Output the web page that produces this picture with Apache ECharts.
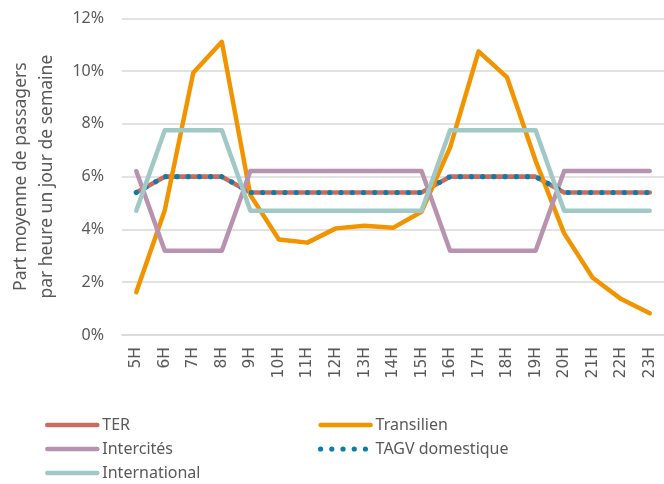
<!DOCTYPE html>
<html>
<head>
<meta charset="utf-8">
<script src="https://cdn.jsdelivr.net/npm/echarts@6/dist/echarts.min.js"></script>
<style>
  html, body { margin: 0; padding: 0; background: #fff; }
  #chart { width: 664px; height: 484px; }
</style>
</head>
<body>
<div id="chart"></div>
<script>
// Hours of a weekday
const hours = ['5H','6H','7H','8H','9H','10H','11H','12H','13H','14H','15H','16H','17H','18H','19H','20H','21H','22H','23H'];

// Average share of passengers per hour (%)
const ter          = [5.4, 6.0, 6.0, 6.0, 5.4, 5.4, 5.4, 5.4, 5.4, 5.4, 5.4, 6.0, 6.0, 6.0, 6.0, 5.4, 5.4, 5.4, 5.4];
const transilien   = [1.62, 4.73, 9.94, 11.11, 5.3, 3.62, 3.5, 4.04, 4.14, 4.06, 4.67, 7.1, 10.75, 9.76, 6.6, 3.85, 2.17, 1.36, 0.82];
const intercites   = [6.21, 3.19, 3.19, 3.19, 6.21, 6.21, 6.21, 6.21, 6.21, 6.21, 6.21, 3.19, 3.19, 3.19, 3.19, 6.21, 6.21, 6.21, 6.21];
const tagv         = [5.4, 6.0, 6.0, 6.0, 5.4, 5.4, 5.4, 5.4, 5.4, 5.4, 5.4, 6.0, 6.0, 6.0, 6.0, 5.4, 5.4, 5.4, 5.4];
const international = [4.71, 7.76, 7.76, 7.76, 4.71, 4.71, 4.71, 4.71, 4.71, 4.71, 4.71, 7.76, 7.76, 7.76, 7.76, 4.71, 4.71, 4.71, 4.71];

const yTicks = { min: 0, max: 12, step: 2 };
const yTitle = 'Part moyenne de passagers\npar heure un jour de semaine';

const FONT = '"Noto Sans", sans-serif';
const TEXT = '#595959';

function line(name, data, color, width, z, dash) {
  return {
    name: name,
    type: 'line',
    data: data,
    symbol: 'none',
    z: z,
    lineStyle: { color: color, width: width, cap: 'round', join: 'round', type: dash || 'solid' },
    itemStyle: { color: color }
  };
}

const legendBase = {
  orient: 'vertical', top: 417, itemGap: 8, padding: 0,
  itemWidth: 50, itemHeight: 16,
  itemStyle: { opacity: 0 },
  lineStyle: { width: 'inherit', cap: 'inherit', type: 'inherit' },
  textStyle: { color: TEXT, fontSize: 16, fontFamily: FONT }
};

const chart = echarts.init(document.getElementById('chart'), null, { renderer: 'canvas' });
chart.setOption({
  animation: false,
  backgroundColor: '#ffffff',
  textStyle: { fontFamily: FONT, color: TEXT },
  grid: { left: 120, top: 18.3, right: -8.2, bottom: 149, containLabel: false },
  xAxis: {
    type: 'category',
    data: hours,
    boundaryGap: true,
    axisLine: { show: true, lineStyle: { color: '#d9d9d9', width: 1.5 } },
    axisTick: { show: false },
    axisLabel: { rotate: 90, margin: 12, color: TEXT, fontSize: 15.5, fontFamily: '"DejaVu Sans", sans-serif', interval: 0 }
  },
  yAxis: {
    type: 'value',
    min: yTicks.min, max: yTicks.max, interval: yTicks.step,
    name: yTitle,
    nameLocation: 'middle',
    nameRotate: 90,
    nameGap: 62,
    nameTextStyle: { color: TEXT, fontSize: 17.5, fontFamily: FONT, lineHeight: 26, align: 'center' },
    axisLine: { show: false },
    axisTick: { show: false },
    splitLine: { lineStyle: { color: '#d9d9d9', width: 1.5 } },
    axisLabel: { margin: 18, color: TEXT, fontSize: 16, fontFamily: FONT, formatter: v => v + '%' }
  },
  legend: [
    Object.assign({}, legendBase, { left: 45, data: ['TER', 'Intercités', 'International'] }),
    Object.assign({}, legendBase, { left: 318, data: ['Transilien', 'TAGV domestique'] })
  ],
  series: [
    line('TER', ter, '#C86B60', 4.6, 2),
    line('Transilien', transilien, '#F29400', 4.5, 3),
    line('Intercités', intercites, '#B893B0', 4.5, 4),
    line('TAGV domestique', tagv, '#0C7DA8', 5.2, 5, [0.01, 11.2]),
    line('International', international, '#A0C8C5', 4.5, 6)
  ]
});
</script>
</body>
</html>
